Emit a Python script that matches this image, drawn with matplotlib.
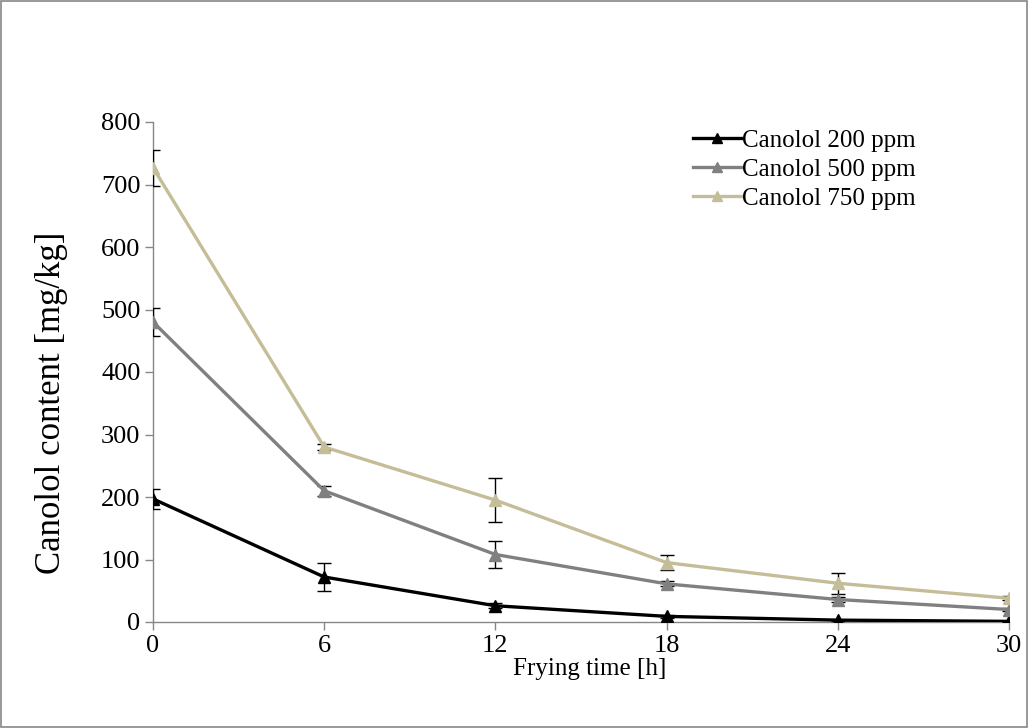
import matplotlib
matplotlib.use("Agg")
import matplotlib.pyplot as plt
from matplotlib.lines import Line2D

hours = [0, 6, 12, 18, 24, 30]

c200 = [197, 72, 26, 9, 3, 1]
c200_err = [16, 22, 4, 2, 1, 1]
c500 = [480, 210, 108, 61, 36, 20]
c500_err = [23, 8, 22, 4, 4, 3]
c750 = [727, 280, 195, 95, 62, 38]
c750_err = [29, 5, 35, 12, 17, 3]

series = [
    ("Canolol 200 ppm", c200, c200_err, "#000000"),
    ("Canolol 500 ppm", c500, c500_err, "#808080"),
    ("Canolol 750 ppm", c750, c750_err, "#C4BD97"),
]

plt.rcParams["font.family"] = ["Liberation Serif", "DejaVu Serif"]

fig = plt.figure(figsize=(10.29, 7.28), dpi=100)
ax = fig.add_axes([153 / 1029, 1 - 622 / 728, 856 / 1029, 500 / 728])

handles = []
for label, vals, err, col in series:
    ax.errorbar(hours, vals, yerr=err, color=col, lw=2.4, marker="^", ms=9,
                ecolor="black", elinewidth=1.0, capsize=5, capthick=1.0,
                zorder=3)
    handles.append(Line2D([], [], color=col, lw=2.4, marker="^", ms=7, label=label))

ax.set_xlim(0, 30)
ax.set_ylim(0, 800)
ax.set_xticks(hours)
ax.set_yticks(range(0, 801, 100))
ax.tick_params(labelsize=19, color="#868686", length=6, width=1, pad=3)
for side in ("top", "right"):
    ax.spines[side].set_visible(False)
for side in ("left", "bottom"):
    ax.spines[side].set_color("#868686")
    ax.spines[side].set_linewidth(1)

ax.set_xlabel("Frying time [h]", fontsize=18)
ax.xaxis.set_label_coords(0.51, -0.072)
ax.set_ylabel("Canolol content [mg/kg]", fontsize=25)
ax.yaxis.set_label_coords(-0.099, 0.438)

ax.legend(handles=handles, loc="upper left",
          bbox_to_anchor=(693 / 1029, 1 - 129 / 728), bbox_transform=fig.transFigure,
          frameon=False, fontsize=18, handlelength=1.9, handletextpad=0.05,
          labelspacing=0.27, borderpad=0, borderaxespad=0)

# chart frame around the whole figure
fig.patches.append(plt.Rectangle((0.001, 0.001), 0.997, 0.997, transform=fig.transFigure,
                                 fill=False, edgecolor="#868686", lw=1.2))

fig.savefig("out.png", dpi=100)
